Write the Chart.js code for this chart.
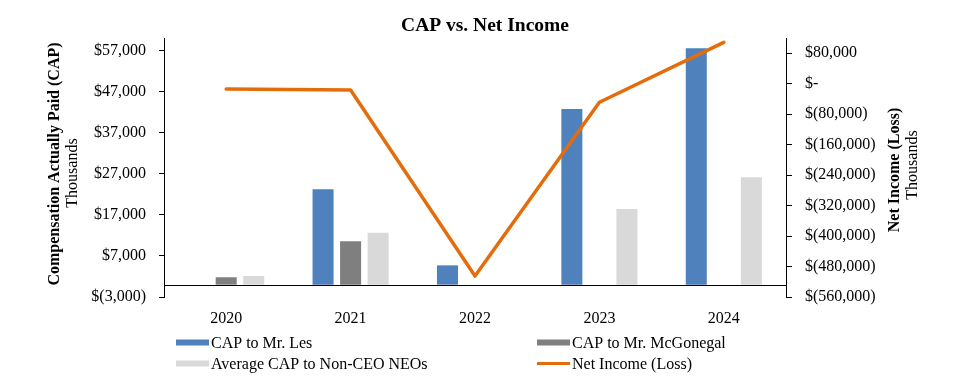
<!DOCTYPE html>
<html>
<head>
<meta charset="utf-8">
<script src="https://cdn.jsdelivr.net/npm/chart.js@4.4.1/dist/chart.umd.min.js"></script>
<style>
  html, body { margin: 0; padding: 0; background: #ffffff; }
  #wrap { width: 971px; height: 383px; }
</style>
</head>
<body>
<div id="wrap"><canvas id="c" width="971" height="383"></canvas></div>
<script>
// ---- Data (thousands) ----
const categories = ['2020', '2021', '2022', '2023', '2024'];
const capLes = [null, 23200, 4700, 42700, 57500];
const capMcGonegal = [1800, 10550, null, null, null];
const capNonCeo = [2100, 12600, null, 18400, 26100];
const netIncome = [-13900, -16500, -505000, -48800, 108700];

// ---- Axis tick labels ----
const leftTicks = [-3000, 7000, 17000, 27000, 37000, 47000, 57000];
const rightTicks = [-560000, -480000, -400000, -320000, -240000, -160000, -80000, 0, 80000];

const chartTitle = 'CAP vs. Net Income';
const leftTitle = 'Compensation Actually Paid (CAP)';
const rightTitle = 'Net Income (Loss)';
const unitTitle = 'Thousands';

const SERIF = '"Liberation Serif", "Times New Roman", serif';

function fmtMoney(v) {
  if (v === 0) return '$-';
  const s = Math.abs(v).toLocaleString('en-US');
  return v < 0 ? '$(' + s + ')' : '$' + s;
}

const decorPlugin = {
  id: 'decor',
  beforeDatasetsDraw(chart) {
    const { ctx, chartArea, scales } = chart;
    const y0 = Math.round(scales.y.getPixelForValue(0)) + 0.5;
    ctx.save();
    ctx.strokeStyle = '#000000';
    ctx.lineWidth = 1;
    ctx.beginPath();
    ctx.moveTo(chartArea.left, y0);
    ctx.lineTo(chartArea.right, y0);
    ctx.stroke();
    ctx.restore();
  },
  afterDraw(chart) {
    const { ctx } = chart;
    ctx.save();
    ctx.fillStyle = '#000000';
    // Title
    ctx.font = 'bold 19.5px ' + SERIF;
    ctx.textAlign = 'center';
    ctx.textBaseline = 'alphabetic';
    ctx.fillText(chartTitle, 485, 31);

    // Rotated axis titles
    function vtext(txt, x, y, font) {
      ctx.save();
      ctx.translate(x, y);
      ctx.rotate(-Math.PI / 2);
      ctx.font = font;
      ctx.textAlign = 'center';
      ctx.textBaseline = 'middle';
      ctx.fillText(txt, 0, 0);
      ctx.restore();
    }
    vtext(leftTitle, 55, 164, 'bold 16px ' + SERIF);
    vtext(unitTitle, 73, 173, '16px ' + SERIF);
    vtext(rightTitle, 895, 170, 'bold 16px ' + SERIF);
    vtext(unitTitle, 913, 165, '16px ' + SERIF);

    // Legend
    const ds = chart.data.datasets;
    const items = [
      { d: ds[0], x: 176, y: 342.5 },
      { d: ds[1], x: 537, y: 342.5 },
      { d: ds[2], x: 176, y: 363.5 },
      { d: ds[3], x: 537, y: 363.5 }
    ];
    ctx.font = '16px ' + SERIF;
    ctx.textAlign = 'left';
    ctx.textBaseline = 'middle';
    items.forEach(it => {
      if (it.d.type === 'line') {
        ctx.strokeStyle = it.d.borderColor;
        ctx.lineWidth = 3;
        ctx.beginPath();
        ctx.moveTo(it.x, it.y);
        ctx.lineTo(it.x + 33, it.y);
        ctx.stroke();
      } else {
        ctx.fillStyle = it.d.backgroundColor;
        ctx.fillRect(it.x, it.y - 3, 33, 6);
      }
      ctx.fillStyle = '#000000';
      ctx.fillText(it.d.label, it.x + 35, it.y + 1);
    });
    ctx.restore();
  }
};

const tickFont = { family: SERIF, size: 16 };

new Chart(document.getElementById('c'), {
  type: 'bar',
  data: {
    labels: categories,
    datasets: [
      { label: 'CAP to Mr. Les', data: capLes, backgroundColor: '#4F81BD', yAxisID: 'y', order: 2,
        categoryPercentage: 0.664, barPercentage: 0.764 },
      { label: 'CAP to Mr. McGonegal', data: capMcGonegal, backgroundColor: '#7F7F7F', yAxisID: 'y', order: 2,
        categoryPercentage: 0.664, barPercentage: 0.764 },
      { label: 'Average CAP to Non-CEO NEOs', data: capNonCeo, backgroundColor: '#D9D9D9', yAxisID: 'y', order: 2,
        categoryPercentage: 0.664, barPercentage: 0.764 },
      { label: 'Net Income (Loss)', type: 'line', data: netIncome, borderColor: '#E46C0A', backgroundColor: '#E46C0A',
        borderWidth: 3.5, pointRadius: 0, tension: 0, yAxisID: 'y1', order: 0, borderCapStyle: 'round',
        borderJoinStyle: 'round', clip: false }
    ]
  },
  options: {
    responsive: false,
    animation: false,
    devicePixelRatio: 1,
    layout: { padding: { left: 0, right: 0, top: 38, bottom: 0 } },
    plugins: { legend: { display: false }, title: { display: false }, tooltip: { enabled: false } },
    scales: {
      x: {
        offset: true,
        grid: { display: false, drawTicks: false },
        border: { display: false },
        ticks: { color: '#000000', font: tickFont, padding: 12, maxRotation: 0 },
        afterFit(s) { s.height = 86; }
      },
      y: {
        position: 'left',
        min: -3000,
        max: 60000,
        afterBuildTicks(s) { s.ticks = leftTicks.map(v => ({ value: v })); },
        grid: { drawOnChartArea: false, drawTicks: true, tickLength: 5, color: '#000000' },
        border: { display: true, color: '#000000', width: 1 },
        ticks: { color: '#000000', font: tickFont, padding: 13, callback: v => fmtMoney(v) },
        afterFit(s) { s.width = 164; }
      },
      y1: {
        position: 'right',
        min: -560000,
        max: 120000,
        afterBuildTicks(s) { s.ticks = rightTicks.map(v => ({ value: v })); },
        grid: { drawOnChartArea: false, drawTicks: true, tickLength: 6, color: '#000000' },
        border: { display: true, color: '#000000', width: 1 },
        ticks: { color: '#000000', font: tickFont, padding: 13, callback: v => fmtMoney(v) },
        afterFit(s) { s.width = 185; }
      }
    }
  },
  plugins: [decorPlugin]
});
</script>
</body>
</html>
